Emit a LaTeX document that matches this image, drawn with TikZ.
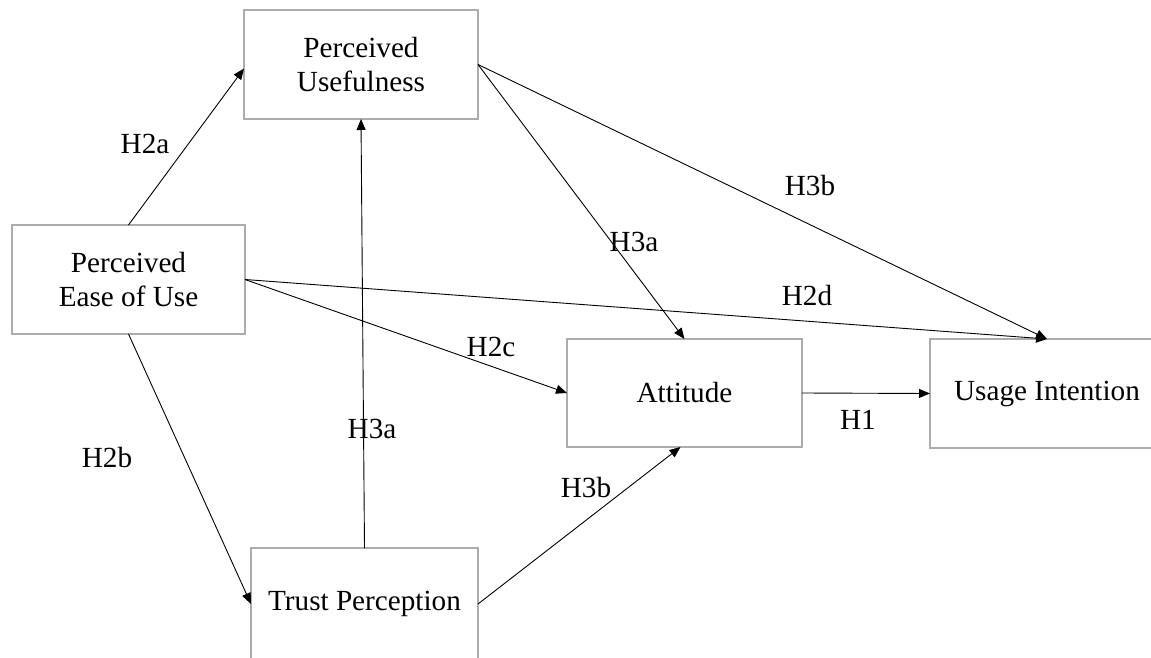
\documentclass[tikz,border=0pt]{standalone}
\usepackage{fontspec}
\setmainfont{Liberation Serif}
\usetikzlibrary{arrows.meta}
\definecolor{boxgray}{RGB}{172,172,172}
\tikzset{
  box/.style={draw=boxgray, line width=1.6pt, rectangle, outer sep=0pt, inner sep=0pt,
    align=center, font=\fontsize{29.2}{34}\selectfont},
  conn/.style={draw=black, line width=0.9pt, -{Triangle[length=11pt,width=9pt]}},
  lab/.style={font=\fontsize{29.2}{34}\selectfont, inner sep=0pt}
}
\begin{document}
\begin{tikzpicture}[x=1pt,y=-1pt]
\useasboundingbox (0,0) rectangle (1151,658);
\node[box, minimum width=234pt, minimum height=109pt] (pu) at (361,64.5) {Perceived\\Usefulness};
\node[box, minimum width=233pt, minimum height=109pt] (peou) at (128.5,279.5) {Perceived\\Ease of Use};
\node[box, minimum width=235pt, minimum height=108pt] (att) at (684.5,393) {Attitude};
\node[box, minimum width=234pt, minimum height=109pt] (ui) at (1047,393.5) {Usage Intention};
\node[box, minimum width=227pt, minimum height=112pt] (tp) at (364.5,604) {Trust Perception};

\draw[conn] (peou.north) -- ([yshift=-4pt]pu.west);
\draw[conn] (tp.north) -- (pu.south);
\draw[conn] (peou.south) -- (tp.west);
\draw[conn] (peou.east) -- (att.west);
\draw[conn] (peou.east) -- (ui.north);
\draw[conn] (pu.east) -- (att.north);
\draw[conn] (pu.east) -- (ui.north);
\draw[conn] (tp.east) -- ([xshift=-4pt]att.south);
\draw[conn] (att.east) -- (ui.west);

\node[lab] (h2a) at (145,144) {H2a};
\node[lab] (h3av) at (372,429) {H3a};
\node[lab] (h2b) at (107,458) {H2b};
\node[lab] (h2c) at (491,347) {H2c};
\node[lab] (h2d) at (807,296) {H2d};
\node[lab] (h3a) at (634,242) {H3a};
\node[lab] (h3b) at (810,186) {H3b};
\node[lab] (h3bl) at (586,488) {H3b};
\node[lab] (h1) at (858,420) {H1};
\end{tikzpicture}
\end{document}
